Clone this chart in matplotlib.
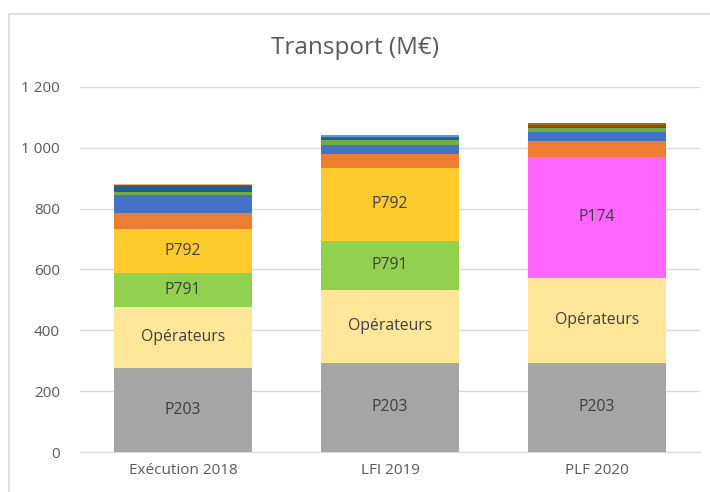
import numpy as np
import matplotlib.pyplot as plt
from matplotlib.patches import Rectangle

plt.rcParams['font.family'] = ['Open Sans', 'DejaVu Sans']

# Categories and stacked series (M€)
categories = ['Exécution 2018', 'LFI 2019', 'PLF 2020']
series_names = ['P203', 'Opérateurs', 'P791', 'P792', 'P174',
                'Autre 1', 'Autre 2', 'Autre 3', 'Autre 4', 'Autre 5', 'Autre 6']
p203 = [276, 293, 293]
operateurs = [201, 240, 279]
p791 = [112, 161, 0]
p792 = [144, 240, 0]
p174 = [0, 0, 398]
autre1 = [53, 46, 53]
autre2 = [59, 29, 29]
autre3 = [10, 17, 13]
autre4 = [20, 5, 4]
autre5 = [3, 5, 6]
autre6 = [3, 5, 7]
labelled = ['P203', 'Opérateurs', 'P791', 'P792', 'P174']

values = [p203, operateurs, p791, p792, p174,
          autre1, autre2, autre3, autre4, autre5, autre6]
colors = ['#A5A5A5', '#FFE699', '#92D050', '#FFCA2C', '#FF66FF',
          '#ED7D31', '#4472C4', '#70AD47', '#255E91', '#9E480E']
top_colors = ['#F4B183', '#5B9BD5', '#997300']

fig = plt.figure(figsize=(7.1, 4.92), dpi=100)
ax = fig.add_axes([0.112, 0.0813, 0.8746, 0.742])

x = np.arange(len(categories))
bottom = np.zeros(len(categories))
for i, (name, vals) in enumerate(zip(series_names, values)):
    vals = np.array(vals, dtype=float)
    if i < len(colors):
        ax.bar(x, vals, 0.667, bottom=bottom, color=colors[i], zorder=3)
    else:
        # last thin series has a different colour per bar
        ax.bar(x, vals, 0.667, bottom=bottom, color=top_colors, zorder=3)
    if name in labelled:
        for xi, v, b in zip(x, vals, bottom):
            if v > 0:
                ax.text(xi, b + v / 2, name, ha='center', va='center',
                        fontsize=11.3, color='#404040', zorder=4)
    bottom += vals

ax.set_xlim(-0.5, 2.5)
ax.set_ylim(0, 1200)
ax.set_yticks(np.arange(0, 1201, 200))
ax.set_yticklabels(['0', '200', '400', '600', '800', '1 000', '1 200'])
ax.set_xticks(x)
ax.set_xticklabels(categories)
ax.yaxis.grid(True, color='#D9D9D9', linewidth=1)
ax.set_axisbelow(True)
for s in ['top', 'right', 'left']:
    ax.spines[s].set_visible(False)
ax.spines['bottom'].set_color('#D9D9D9')
ax.tick_params(axis='both', length=0, colors='#595959', labelsize=11)
ax.tick_params(axis='y', pad=14)
ax.tick_params(axis='x', pad=8)

fig.text(0.5, 0.903, 'Transport (M€)', ha='center', va='center',
         fontsize=17.5, color='#595959')

# chart frame
fig.patches.append(Rectangle((9 / 710, -0.1), 1.2, 1 - 14 / 492 + 0.1,
                             transform=fig.transFigure, fill=False,
                             edgecolor='#D9D9D9', linewidth=1.2))

fig.savefig('out.png', dpi=100)
